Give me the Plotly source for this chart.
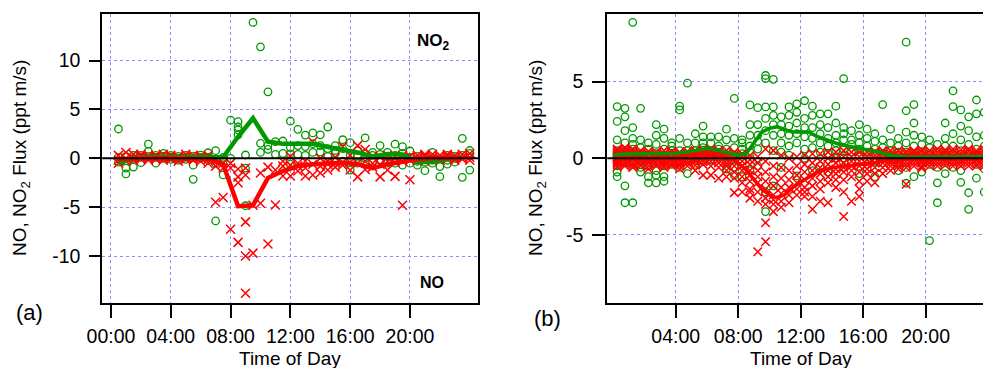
import plotly.graph_objects as go

W, H = 983, 368

# ---------------- Panel (a) data (half-hour slots) ----------------
a_slots = [0.5, 1.0, 1.5, 2.0, 2.5, 3.0, 3.5, 4.0, 4.5, 5.0, 5.5, 6.0,
           6.5, 7.0, 7.5, 8.0, 8.5, 9.0, 9.5, 10.0, 10.5, 11.0, 11.5, 12.0,
           12.5, 13.0, 13.5, 14.0, 14.5, 15.0, 15.5, 16.0, 16.5, 17.0, 17.5, 18.0,
           18.5, 19.0, 19.5, 20.0, 20.5, 21.0, 21.5, 22.0, 22.5, 23.0, 23.5, 24.0]

a_no2 = [[3.0, -0.4, 0.1], [-1.0, -1.6, 0.2], [-0.9, 0.0, 0.3], [-0.45, 0.1, 0.3],
         [1.46, 0.7, 0.2], [-0.5, 0.1, 0.3], [0.5, 0.0, 0.2], [0.3, -0.1, 0.1],
         [0.2, 0.0, -0.2], [0.1, 0.3, -0.1], [-0.7, -2.15, 0.2], [0.33, 0.0, 0.1],
         [0.57, 0.1, -0.2], [0.78, -0.5, -6.4], [-1.7, -0.3, 0.1], [3.9, 0.0],
         [3.75, 3.2, 2.9, 2.4], [0.34, -1.0, -4.85], [13.9], [11.4, 1.53, 0.6],
         [6.8, 0.92, 1.3], [1.7, 0.4], [1.77, 0.5], [3.8, 1.1, 0.45, -0.6],
         [2.96, 0.4, 1.3], [2.38, 1.2, 0.3], [2.6, 0.6, 1.5], [2.4, 0.65, 1.3],
         [3.2, 1.0, 0.2], [1.3, 0.5, 0.8], [1.9, 1.0, -0.3], [1.6, -1.2, 0.3],
         [0.8, 0.2, -0.5], [2.1, 0.5, 0.0], [0.3, -0.3, 0.6], [1.3, 0.4, -0.2],
         [0.6, -0.5, 0.2], [1.45, -0.5, 0.3], [1.2, -0.7, 0.5], [0.75, -0.5, 0.1],
         [-0.7, 0.2, -0.3], [-1.27, -0.4, 0.1], [0.6, -0.5, -0.2], [-0.85, -1.88, 0.0],
         [-0.6, 0.3, -0.2], [-0.4, 0.2, 0.0], [2.04, -1.95, 0.3], [0.8, -1.2, 0.5]]

a_no = [[0.3, -0.2, -0.5], [0.6, 0.0, -0.3], [0.4, -0.2, 0.0], [0.2, -0.1, 0.4],
        [0.3, 0.0, -0.2], [0.2, -0.1, 0.3], [0.4, 0.0, -0.2], [0.3, -0.1, 0.1],
        [0.2, 0.0, -0.3], [0.4, 0.1, -0.1], [0.3, -0.2, 0.0], [0.2, -0.3, 0.1],
        [0.3, -0.5, -0.1], [-4.5, -0.8, -0.2], [-4.0, -1.0, -0.5], [-7.26, -1.0, -0.5],
        [-8.6, -2.5, -1.9, -1.1], [-13.8, -10.0, -6.5, -1.7, -1.0], [-9.7, -4.8], [-4.6, -1.5],
        [-8.76, -0.9], [-4.78, -1.2], [-1.8, -0.8, -0.3], [-1.8, -0.7, 0.2],
        [-1.3, -0.5, -0.8], [-1.8, -0.3, -1.0], [1.7, -1.7, -0.6], [-1.5, -0.8, 0.0],
        [-1.2, -0.3, -0.6], [-0.5, -0.9, 0.1], [1.2, -0.7, -0.4], [-1.2, -0.4, 0.3],
        [1.3, -1.9, -0.5], [0.9, -1.15, -0.3], [-0.9, -0.5, 0.2], [-1.9, -0.6, 0.1],
        [-1.2, -0.3, 0.3], [-1.85, -0.4, 0.2], [-4.8, -0.3, 0.3], [-2.2, 0.2, -0.2],
        [0.3, -0.2, 0.0], [0.2, -0.3, 0.4], [0.4, -0.1, 0.1], [0.3, 0.0, -0.2],
        [0.4, -0.1, 0.2], [0.3, -0.2, 0.0], [0.4, 0.1, -0.1], [0.5, -0.2, 0.1]]

a_mean_t = [0.5, 1.5, 2.5, 3.5, 4.5, 5.5, 6.5, 7.5, 8.5, 9.5, 10.5, 11.5,
            12.5, 13.5, 14.5, 15.5, 16.5, 17.5, 18.5, 19.5, 20.5, 21.5, 22.5, 23.5]
a_no2_mean = [-0.5, 0.0, 0.1, 0.1, 0.1, 0.05, 0.0, 0.1, 2.2, 4.1, 1.7, 1.5,
              1.5, 1.5, 1.15, 0.9, 0.6, 0.2, 0.45, 0.4, -0.4, -0.35, -0.1, 0.1]
a_no_mean = [-0.1, 0.0, 0.0, 0.0, 0.0, 0.0, -0.1, -0.6, -4.9, -4.8, -2.0, -1.3,
             -0.8, -0.6, -0.5, -0.45, -0.6, -1.0, -0.6, -0.3, -0.1, 0.0, 0.0, 0.0]

# ---------------- Panel (b) data (half-hour slots) ----------------
b_slots = [0.25, 0.75, 1.25, 1.75, 2.25, 2.75, 3.25, 3.75, 4.25, 4.75, 5.25, 5.75,
           6.25, 6.75, 7.25, 7.75, 8.25, 8.75, 9.25, 9.75, 10.25, 10.75, 11.25, 11.75,
           12.25, 12.75, 13.25, 13.75, 14.25, 14.75, 15.25, 15.75, 16.25, 16.75, 17.25, 17.75,
           18.25, 18.75, 19.25, 19.75, 20.25, 20.75, 21.25, 21.75, 22.25, 22.75, 23.25, 23.75]

b_no2 = [[3.37, 2.4, 1.2, 0.5, 0.2, -0.5, -0.9, -1.2, 0.0],
         [3.26, 2.7, 1.8, 1.0, 0.4, -0.3, -1.8, -2.9, 0.1],
         [8.87, 2.0, 1.3, 0.6, 0.2, -0.4, -2.9, 0.9],
         [3.26, 1.2, 0.7, 0.3, -0.6, -0.9, 0.0],
         [1.0, 0.6, 0.2, -0.5, -1.2, -1.6, 0.1],
         [2.2, 1.5, 0.9, 0.3, -0.8, -1.6, -1.1],
         [1.9, 1.3, 0.6, 0.1, -0.5, -1.2, -1.5],
         [1.0, 0.5, 0.2, -0.3, -0.4, 0.8],
         [3.4, 3.15, 1.3, 0.5, 0.1, -0.3, -0.6],
         [4.9, 1.0, 0.5, -0.2, -1.0, 0.2],
         [1.6, 1.0, 0.5, 0.0, -0.4, 0.3],
         [2.1, 1.4, 0.7, 0.2, -0.2, 1.0],
         [1.4, 1.0, 0.5, 0.3, -0.1],
         [1.4, 0.8, 0.4, 0.1, 0.6],
         [1.9, 1.2, 0.6, 0.2, -0.3, -0.7],
         [3.9, 1.3, 0.7, 0.2, -0.6, -1.1],
         [1.2, 0.6, 0.3, -0.2, -1.2, 1.0],
         [3.48, 2.2, 1.5, 0.8, 0.4, -0.8],
         [3.3, 2.2, 1.5, 1.1, 0.6, -0.5],
         [5.4, 5.2, 3.35, 2.6, 1.8, 1.0, -3.48, -2.2],
         [5.15, 3.35, 2.8, 2.2, 1.5, 0.5, -1.8],
         [2.7, 2.2, 1.6, 1.0, 0.4, -0.6],
         [3.35, 2.8, 2.1, 1.5, 0.8, 0.2],
         [3.55, 3.0, 2.3, 1.6, 1.0, -1.15],
         [3.75, 2.6, 2.0, 1.4, 0.6, 0.0],
         [3.4, 2.8, 2.0, 1.3, 0.7, -0.8],
         [2.9, 2.2, 1.6, 1.0, 0.4, -0.5],
         [2.9, 2.0, 1.3, 0.8, 0.3, -0.9],
         [3.4, 2.3, 1.5, 1.0, 0.5, 0.0],
         [5.2, 2.0, 1.6, 1.2, 0.6, 0.0, -0.6],
         [1.8, 1.2, 0.9, 0.4, -0.3],
         [2.2, 1.5, 1.0, 0.6, 0.2, -1.0],
         [1.9, 1.3, 0.8, 0.4, -0.4],
         [1.6, 1.1, 0.6, 0.3, -0.2, -1.2],
         [3.5, 1.2, 0.7, 0.3, -0.3],
         [1.9, 1.0, 0.5, 0.1, -0.5],
         [1.3, 0.8, 0.4, -0.3, -0.8],
         [7.57, 3.1, 1.7, 1.0, 0.4, -0.6, -1.63],
         [3.5, 2.3, 1.5, 0.8, 0.3, -1.2],
         [1.4, 0.9, 0.4, -0.3, -0.9],
         [1.2, 0.7, 0.2, -0.4, -5.37],
         [0.9, 0.4, -0.6, -1.6, -2.9],
         [2.3, 1.3, 0.8, 0.3, -0.3, -1.0],
         [4.39, 3.37, 1.6, 0.8, 0.2, -0.6],
         [3.15, 2.1, 1.2, 0.5, -0.8, -1.57],
         [2.7, 1.8, 0.9, 0.3, -2.25, -3.33],
         [3.8, 2.9, 1.4, 0.6, -0.4, -1.3],
         [3.0, 1.5, 0.8, 0.2, -0.7, -2.2]]

b_no = [[0.5, 0.35, 0.2, 0.1, 0.0, -0.1, -0.25, -0.4, -0.55, 0.6],
        [0.7, 0.4, 0.25, 0.1, -0.05, -0.2, -0.35, -0.5, 0.55],
        [0.45, 0.3, 0.15, 0.0, -0.1, -0.3, -0.45, -0.6, 0.6],
        [0.5, 0.3, 0.2, 0.05, -0.1, -0.2, -0.4, -0.5],
        [0.45, 0.3, 0.1, 0.0, -0.15, -0.3, -0.5, -0.7],
        [0.4, 0.25, 0.1, -0.05, -0.2, -0.35, -0.5],
        [0.5, 0.3, 0.15, 0.0, -0.15, -0.3, -0.45, -0.6],
        [0.45, 0.3, 0.1, 0.0, -0.2, -0.35, -0.5],
        [0.4, 0.25, 0.1, -0.05, -0.2, -0.35, -0.5, -0.7],
        [0.45, 0.3, 0.15, 0.0, -0.15, -0.3, -0.5],
        [0.5, 0.35, 0.2, 0.05, -0.1, -0.25, -0.45, -0.8],
        [0.55, 0.4, 0.25, 0.1, -0.05, -0.2, -0.4, -1.1],
        [0.6, 0.45, 0.3, 0.15, 0.0, -0.2, -0.5, -1.1],
        [0.5, 0.4, 0.25, 0.1, -0.1, -0.3, -0.6, -1.3],
        [0.5, 0.3, 0.1, -0.1, -0.3, -0.5, -0.8, -1.2],
        [0.4, 0.2, 0.0, -0.2, -0.5, -0.9, -1.3, -2.24],
        [0.3, 0.1, -0.2, -0.5, -0.8, -1.2, -1.6, -2.2],
        [0.2, -0.1, -0.4, -0.8, -1.1, -1.5, -2.0, -2.2, -2.6],
        [0.1, -0.3, -0.8, -1.2, -1.6, -2.2, -2.8, -6.1],
        [0.6, -0.2, -0.9, -1.5, -2.0, -2.6, -3.0, -4.2, -5.44],
        [0.5, -0.5, -1.2, -1.8, -2.4, -3.0, -3.48, -2.7],
        [0.2, -0.6, -1.3, -1.9, -2.3, -2.8, -3.2],
        [0.0, -0.8, -1.4, -1.9, -2.4, -2.9],
        [0.1, -0.5, -1.1, -1.6, -2.0, -2.4],
        [0.2, -0.4, -0.9, -1.4, -1.9, -2.2, -2.5],
        [0.3, -0.3, -0.8, -1.3, -1.8, -2.5, -3.33],
        [0.3, -0.2, -0.6, -1.0, -1.5, -2.0, -2.8],
        [0.4, 0.0, -0.4, -0.8, -1.2, -1.6, -2.9],
        [0.4, 0.0, -0.3, -0.7, -1.0, -1.4, -1.9],
        [0.5, 0.1, -0.3, -0.6, -0.9, -1.4, -2.2, -3.8],
        [0.4, 0.1, -0.2, -0.5, -0.8, -1.2, -2.8],
        [0.4, 0.1, -0.2, -0.5, -0.9, -1.5, -2.0, -2.5],
        [0.4, 0.15, -0.1, -0.4, -0.7, -1.0, -1.5],
        [0.45, 0.2, 0.0, -0.3, -0.6, -1.0, -1.6],
        [0.5, 0.3, 0.1, -0.1, -0.3, -0.6, -1.0],
        [0.5, 0.3, 0.1, -0.1, -0.3, -0.5, -0.8],
        [0.5, 0.3, 0.15, 0.0, -0.15, -0.3, -0.5, -0.7],
        [0.45, 0.3, 0.1, 0.0, -0.2, -0.4, -0.6, -1.7],
        [0.5, 0.35, 0.2, 0.05, -0.1, -0.3, -0.5],
        [0.55, 0.4, 0.2, 0.0, -0.15, -0.3, -0.5, -0.65],
        [0.5, 0.3, 0.15, 0.0, -0.15, -0.3, -0.5],
        [0.6, 0.4, 0.2, 0.05, -0.1, -0.3, -0.5],
        [0.55, 0.4, 0.25, 0.1, -0.1, -0.25, -0.45],
        [0.6, 0.4, 0.2, 0.05, -0.1, -0.3, -0.5],
        [0.55, 0.35, 0.2, 0.0, -0.15, -0.3, -0.5],
        [0.6, 0.45, 0.25, 0.1, -0.1, -0.3, -0.5],
        [0.5, 0.35, 0.2, 0.0, -0.15, -0.35, -0.5],
        [0.6, 0.4, 0.2, 0.05, -0.1, -0.3, -0.5]]

b_mean_t = [0, 1, 2, 3, 4, 5, 6, 7, 7.5, 8, 8.5, 9, 9.5, 10, 10.5, 11, 11.5, 12,
            12.5, 13, 13.5, 14, 14.5, 15, 15.5, 16, 16.5, 17, 17.5, 18, 19, 20, 21, 22, 23, 23.75]
b_no2_mean = [0.2, 0.3, 0.3, 0.33, 0.33, 0.45, 0.65, 0.45, 0.3, 0.2, 0.3, 1.0, 1.7, 1.95, 2.06, 1.85,
              1.72, 1.72, 1.72, 1.45, 1.25, 1.05, 0.9, 0.8, 0.72, 0.6, 0.48, 0.4, 0.25, 0.15,
              0.06, 0.08, 0.1, 0.12, 0.12, 0.12]
b_no_mean = [-0.05, -0.05, 0.0, 0.0, 0.0, 0.05, 0.1, 0.1, 0.0, -0.3, -0.75, -1.4, -2.0, -2.4, -2.6,
             -2.35, -1.9, -1.55, -1.25, -0.95, -0.75, -0.62, -0.55, -0.5, -0.45, -0.4, -0.32,
             -0.22, -0.15, -0.1, -0.05, -0.05, -0.03, -0.03, -0.03, -0.03]

tick_vals_a = [0, 4, 8, 12, 16, 20]
tick_text_a = ["00:00", "04:00", "08:00", "12:00", "16:00", "20:00"]
tick_vals_b = [4, 8, 12, 16, 20]
tick_text_b = ["04:00", "08:00", "12:00", "16:00", "20:00"]
ytick_vals_a = [-10, -5, 0, 5, 10]
ytick_text_a = ["-10", "-5", "0", "5", "10"]
ytick_vals_b = [-5, 0, 5]
ytick_text_b = ["-5", "0", "5"]

GREEN = "#009900"
RED = "#ff0000"
GRID = "#8c8cff"
FONT = "Liberation Sans, Arial, sans-serif"


def flatten(slots, vals):
    xs, ys = [], []
    for t, vs in zip(slots, vals):
        for v in vs:
            xs.append(t)
            ys.append(v)
    return xs, ys


def px_x(p):
    return p / W


def px_y(p):
    return 1 - p / H


fig = go.Figure()

for slots, no2, no, mt, m2, m1, xa, ya, lw, gsz, rsz in [
    (a_slots, a_no2, a_no, a_mean_t, a_no2_mean, a_no_mean, "x", "y", 4.5, 7.5, 9),
    (b_slots, b_no2, b_no, b_mean_t, b_no2_mean, b_no_mean, "x2", "y2", 3.5, 7.5, 8.5),
]:
    gx, gy = flatten(slots, no2)
    rx, ry = flatten(slots, no)
    fig.add_trace(go.Scatter(x=gx, y=gy, mode="markers", xaxis=xa, yaxis=ya,
                             marker=dict(symbol="circle-open", size=gsz, color=GREEN,
                                         line=dict(width=1.3, color=GREEN))))
    fig.add_trace(go.Scatter(x=rx, y=ry, mode="markers", xaxis=xa, yaxis=ya,
                             marker=dict(symbol="x-thin", size=rsz, color=RED,
                                         line=dict(width=1.5, color=RED))))
    fig.add_trace(go.Scatter(x=mt, y=m2, mode="lines", xaxis=xa, yaxis=ya,
                             line=dict(color=GREEN, width=lw)))
    fig.add_trace(go.Scatter(x=mt, y=m1, mode="lines", xaxis=xa, yaxis=ya,
                             line=dict(color=RED, width=lw)))

ydom = [px_y(303.3), px_y(14)]
common_x = dict(showgrid=True, gridcolor=GRID, gridwidth=1, griddash="dot",
                showline=True, linewidth=2, linecolor="black", mirror=True,
                ticks="outside", ticklen=13, tickwidth=2, tickcolor="black",
                zeroline=False, tickfont=dict(size=19.5, color="black", family=FONT),
                ticklabelstandoff=1, automargin=False)
common_y = dict(showgrid=True, gridcolor=GRID, gridwidth=1, griddash="dot",
                showline=True, linewidth=2, linecolor="black",
                ticks="outside", tickwidth=2, tickcolor="black",
                zeroline=False, tickfont=dict(size=19.5, color="black", family=FONT),
                ticklabelstandoff=5, automargin=False)

fig.update_layout(
    width=W, height=H,
    margin=dict(l=0, r=0, t=0, b=0, pad=0, autoexpand=False),
    paper_bgcolor="white", plot_bgcolor="white",
    showlegend=False,
    font=dict(family=FONT, color="black", size=19),
    xaxis=dict(domain=[px_x(102.3), px_x(478.3)], range=[-0.58, 24.57],
               tickvals=tick_vals_a, ticktext=tick_text_a, anchor="y", **common_x),
    yaxis=dict(domain=ydom, range=[-14.83, 14.76], tickvals=ytick_vals_a, ticktext=ytick_text_a,
               anchor="x", mirror=True, ticklen=11, **common_y),
    xaxis2=dict(domain=[px_x(607.3), 1.0], range=[-0.38, 23.67],
                tickvals=tick_vals_b, ticktext=tick_text_b, anchor="y2", **common_x),
    yaxis2=dict(domain=ydom, range=[-9.46, 9.41], tickvals=ytick_vals_b, ticktext=ytick_text_b,
                anchor="x2", mirror=False, ticklen=13, **common_y),
)

# zero lines drawn above markers
for xr, yr in [("x domain", "y"), ("x2 domain", "y2")]:
    fig.add_shape(type="line", xref=xr, yref=yr, x0=0, x1=1, y0=0, y1=0,
                  line=dict(color="black", width=2), layer="above")

ann = [
    dict(x=px_x(21), y=px_y(158), text="NO, NO<sub>2</sub> Flux (ppt m/s)", textangle=-90, size=19),
    dict(x=px_x(537), y=px_y(158), text="NO, NO<sub>2</sub> Flux (ppt m/s)", textangle=-90, size=19),
    dict(x=px_x(290), y=px_y(358), text="Time of Day", textangle=0, size=19),
    dict(x=px_x(801), y=px_y(358), text="Time of Day", textangle=0, size=19),
    dict(x=px_x(29), y=px_y(312), text="(a)", textangle=0, size=22),
    dict(x=px_x(547), y=px_y(318), text="(b)", textangle=0, size=22),
    dict(x=px_x(433), y=px_y(42), text="<b>NO<sub>2</sub></b>", textangle=0, size=17),
    dict(x=px_x(432), y=px_y(282), text="<b>NO</b>", textangle=0, size=16),
]
for a in ann:
    fig.add_annotation(x=a["x"], y=a["y"], xref="paper", yref="paper", text=a["text"],
                       textangle=a["textangle"], showarrow=False, xanchor="center",
                       yanchor="middle", font=dict(size=a["size"], color="black", family=FONT))

fig.write_html("out.html", config={"responsive": False})
